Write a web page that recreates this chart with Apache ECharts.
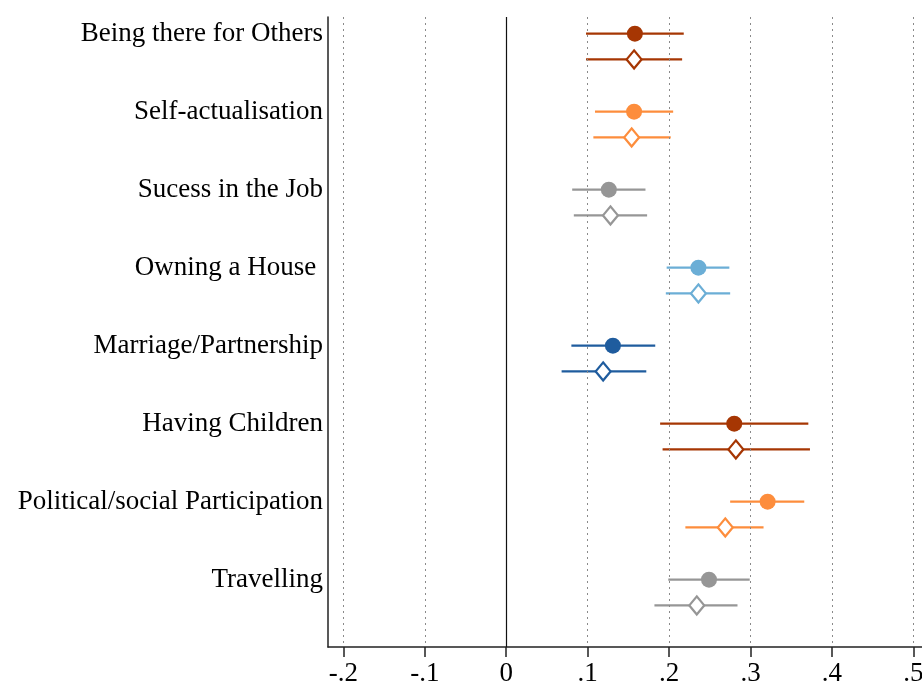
<!DOCTYPE html>
<html>
<head>
<meta charset="utf-8">
<title>Coefficient plot</title>
<script src="https://cdn.jsdelivr.net/npm/echarts@6/dist/echarts.min.js"></script>
<style>
html, body { margin: 0; padding: 0; background: #fff; }
#chart { width: 922px; height: 682px; }
</style>
</head>
<body>
<div id="chart"></div>
<script>
// data
const categories = [
  'Being there for Others',
  'Self-actualisation',
  'Sucess in the Job',
  'Owning a House ',
  'Marriage/Partnership',
  'Having Children',
  'Political/social Participation',
  'Travelling'
]
const circleEst = [0.158, 0.157, 0.126, 0.236, 0.131, 0.280, 0.321, 0.249]
const circleLow = [0.098, 0.109, 0.081, 0.197, 0.080, 0.189, 0.275, 0.199]
const circleHigh = [0.218, 0.205, 0.171, 0.274, 0.183, 0.371, 0.366, 0.299]
const diamondEst = [0.157, 0.154, 0.128, 0.236, 0.119, 0.282, 0.269, 0.234]
const diamondLow = [0.098, 0.107, 0.083, 0.196, 0.068, 0.192, 0.220, 0.182]
const diamondHigh = [0.216, 0.202, 0.173, 0.275, 0.172, 0.373, 0.316, 0.284]
const xTicks = [-0.2, -0.1, 0, 0.1, 0.2, 0.3, 0.4, 0.5]
const xTickLabels = ['-.2', '-.1', '0', '.1', '.2', '.3', '.4', '.5']

const colors = ['#A63603', '#FD8D3C', '#969696', '#6BAED6', '#1F5C9E', '#A63603', '#FD8D3C', '#969696']
const rowOffset = 0.33
const fontFamily = 'Liberation Serif'

const chart = echarts.init(document.getElementById('chart'))

const ciData = (low, high, offset) =>
  categories.map((_, i) => ({
    value: [low[i], i + offset, high[i]],
    itemStyle: { color: colors[i] },
  }))

const renderCI = (params, api) => {
  const y = api.value(1)
  const a = api.coord([api.value(0), y])
  const b = api.coord([api.value(2), y])
  return {
    type: 'line',
    shape: { x1: a[0], y1: a[1], x2: b[0], y2: b[1] },
    style: { stroke: api.visual('color'), lineWidth: 2.2 },
  }
}

const option = {
  animation: false,
  grid: { left: 328, right: 0, top: 17, bottom: 35, containLabel: false, outerBoundsMode: 'none' },
  xAxis: {
    type: 'value',
    min: -0.2189,
    max: 0.5106,
    axisLine: { onZero: false, lineStyle: { color: '#222', width: 1.5 } },
    axisTick: { customValues: xTicks, length: 10, lineStyle: { color: '#222', width: 1.5 } },
    axisLabel: {
      customValues: xTicks,
      formatter: (v) => xTickLabels[xTicks.findIndex((t) => Math.abs(t - v) < 1e-6)],
      color: '#000',
      fontFamily: fontFamily,
      fontSize: 27,
      margin: 13,
    },
    splitLine: { show: false },
  },
  yAxis: {
    type: 'value',
    inverse: true,
    min: -0.214,
    max: 7.863,
    axisLine: { show: true, onZero: false, lineStyle: { color: '#222', width: 1.5 } },
    axisTick: { show: false },
    splitLine: { show: false },
    axisLabel: {
      customValues: categories.map((_, i) => i),
      formatter: (v) => categories[Math.round(v)],
      color: '#000',
      fontFamily: fontFamily,
      fontSize: 27,
      margin: 5,
    },
  },
  series: [
    {
      type: 'line',
      data: [],
      z: 0,
      markLine: {
        silent: true,
        symbol: 'none',
        label: { show: false },
        animation: false,
        data: xTicks.map((t) => ({
          xAxis: t,
          lineStyle: t === 0
            ? { type: 'solid', color: '#111', width: 1.2 }
            : { type: [2, 4], color: '#8a8a8a', width: 1 },
        })),
      },
    },
    {
      type: 'custom',
      renderItem: renderCI,
      encode: { x: [0, 2], y: 1 },
      data: ciData(circleLow, circleHigh, 0),
      z: 2,
    },
    {
      type: 'custom',
      renderItem: renderCI,
      encode: { x: [0, 2], y: 1 },
      data: ciData(diamondLow, diamondHigh, rowOffset),
      z: 2,
    },
    {
      type: 'scatter',
      symbol: 'circle',
      symbolSize: 16,
      z: 3,
      data: categories.map((_, i) => ({
        value: [circleEst[i], i],
        itemStyle: { color: colors[i], opacity: 1 },
      })),
    },
    {
      type: 'scatter',
      symbol: 'diamond',
      symbolSize: [15, 18],
      z: 3,
      data: categories.map((_, i) => ({
        value: [diamondEst[i], i + rowOffset],
        itemStyle: { color: '#fff', borderColor: colors[i], borderWidth: 2.2, opacity: 1 },
      })),
    },
  ],
}

chart.setOption(option)
</script>
</body>
</html>
